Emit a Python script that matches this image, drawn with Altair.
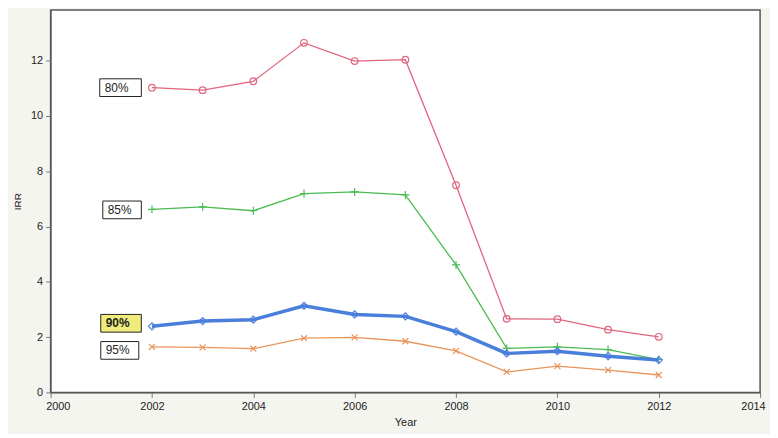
import altair as alt
import pandas as pd

years = [2002, 2003, 2004, 2005, 2006, 2007, 2008, 2009, 2010, 2011, 2012]
irr_80 = [11.02, 10.93, 11.25, 12.64, 11.98, 12.03, 7.49, 2.66, 2.65, 2.27, 2.01]
irr_85 = [6.62, 6.71, 6.57, 7.19, 7.25, 7.14, 4.61, 1.59, 1.65, 1.55, 1.19]
irr_90 = [2.39, 2.58, 2.63, 3.13, 2.82, 2.75, 2.20, 1.41, 1.49, 1.31, 1.17]
irr_95 = [1.65, 1.63, 1.58, 1.96, 1.99, 1.85, 1.50, 0.74, 0.95, 0.81, 0.63]

series_names = ["80%", "85%", "90%", "95%"]
series_values = [irr_80, irr_85, irr_90, irr_95]
series_colors = ["#e0657d", "#4cbb52", "#4a7edb", "#e8955c"]
series_widths = [1.3, 1.3, 3.5, 1.3]
series_shapes = ["circle", "M-1,0L1,0M0,-1L0,1", "diamond", "M-1,-1L1,1M-1,1L1,-1"]
series_sizes = [45, 64, 50, 36]

label_x0 = [2000.97, 2001.03, 2000.99, 2000.99]
label_x1 = [2001.79, 2001.79, 2001.79, 2001.74]
label_y = [11.02, 6.6, 2.5, 1.52]
label_fill = ["white", "white", "#efec7c", "white"]
label_weight = ["normal", "normal", "bold", "normal"]

FONT = "Liberation Sans"

xscale = alt.Scale(domain=[2000, 2014], nice=False, zero=False)
yscale = alt.Scale(domain=[0, 13.83], nice=False)

xaxis = alt.Axis(values=list(range(2000, 2015, 2)), format="d", title="Year",
                 grid=False, tickSize=5, labelFontSize=11, titleFontSize=11,
                 titleFontWeight="normal", domainColor="#555", tickColor="#777",
                 labelColor="#222", titleColor="#222", titlePadding=5, labelPadding=3,
                 labelFlush=True, labelFlushOffset=5)
yaxis = alt.Axis(values=list(range(0, 13, 2)), title="IRR", grid=False, tickSize=5,
                 labelFontSize=11, titleFontSize=10, titleFontWeight="normal",
                 domainColor="#555", tickColor="#777", labelColor="#222",
                 titleColor="#222", titlePadding=8, labelPadding=3, labelFlush=False)

layers = []
for i, name in enumerate(series_names):
    df = pd.DataFrame({"Year": years, "IRR": series_values[i]})
    base = alt.Chart(df)
    line = base.mark_line(color=series_colors[i], strokeWidth=series_widths[i]).encode(
        x=alt.X("Year:Q", scale=xscale, axis=xaxis),
        y=alt.Y("IRR:Q", scale=yscale, axis=yaxis),
    )
    pts = base.mark_point(shape=series_shapes[i], filled=False, color=series_colors[i],
                          size=series_sizes[i], strokeWidth=1.2, opacity=1).encode(
        x=alt.X("Year:Q", scale=xscale),
        y=alt.Y("IRR:Q", scale=yscale),
    )
    layers += [line, pts]

lab = pd.DataFrame({
    "name": series_names,
    "x0": label_x0,
    "x1": label_x1,
    "y": label_y,
    "fill": label_fill,
    "weight": label_weight,
})
lab["ylo"] = lab["y"] - 0.32
lab["yhi"] = lab["y"] + 0.32

boxes = alt.Chart(lab).mark_rect(stroke="#222", strokeWidth=1).encode(
    x=alt.X("x0:Q", scale=xscale),
    x2="x1:Q",
    y=alt.Y("ylo:Q", scale=yscale),
    y2="yhi:Q",
    fill=alt.Fill("fill:N", scale=None),
)
texts_normal = alt.Chart(lab[lab["weight"] == "normal"]).mark_text(
    align="left", baseline="middle", dx=5, fontSize=12, font=FONT, color="#222"
).encode(
    x=alt.X("x0:Q", scale=xscale),
    y=alt.Y("y:Q", scale=yscale),
    text="name:N",
)
texts_bold = alt.Chart(lab[lab["weight"] == "bold"]).mark_text(
    align="left", baseline="middle", dx=5, fontSize=12, font=FONT, color="#222",
    fontWeight="bold"
).encode(
    x=alt.X("x0:Q", scale=xscale),
    y=alt.Y("y:Q", scale=yscale),
    text="name:N",
)

chart = alt.layer(*layers, boxes, texts_normal, texts_bold).properties(
    width=716, height=386,
    autosize=alt.AutoSizeParams(type="none"),
    padding={"left": 43, "top": 0, "right": 10, "bottom": 40},
    background="#f5f5f0",
).configure_view(
    fill="white", stroke="#555", strokeWidth=1.5
).configure_axis(
    labelFont=FONT, titleFont=FONT
)

chart.save("out.html", embed_options={"renderer": "svg", "actions": False})
